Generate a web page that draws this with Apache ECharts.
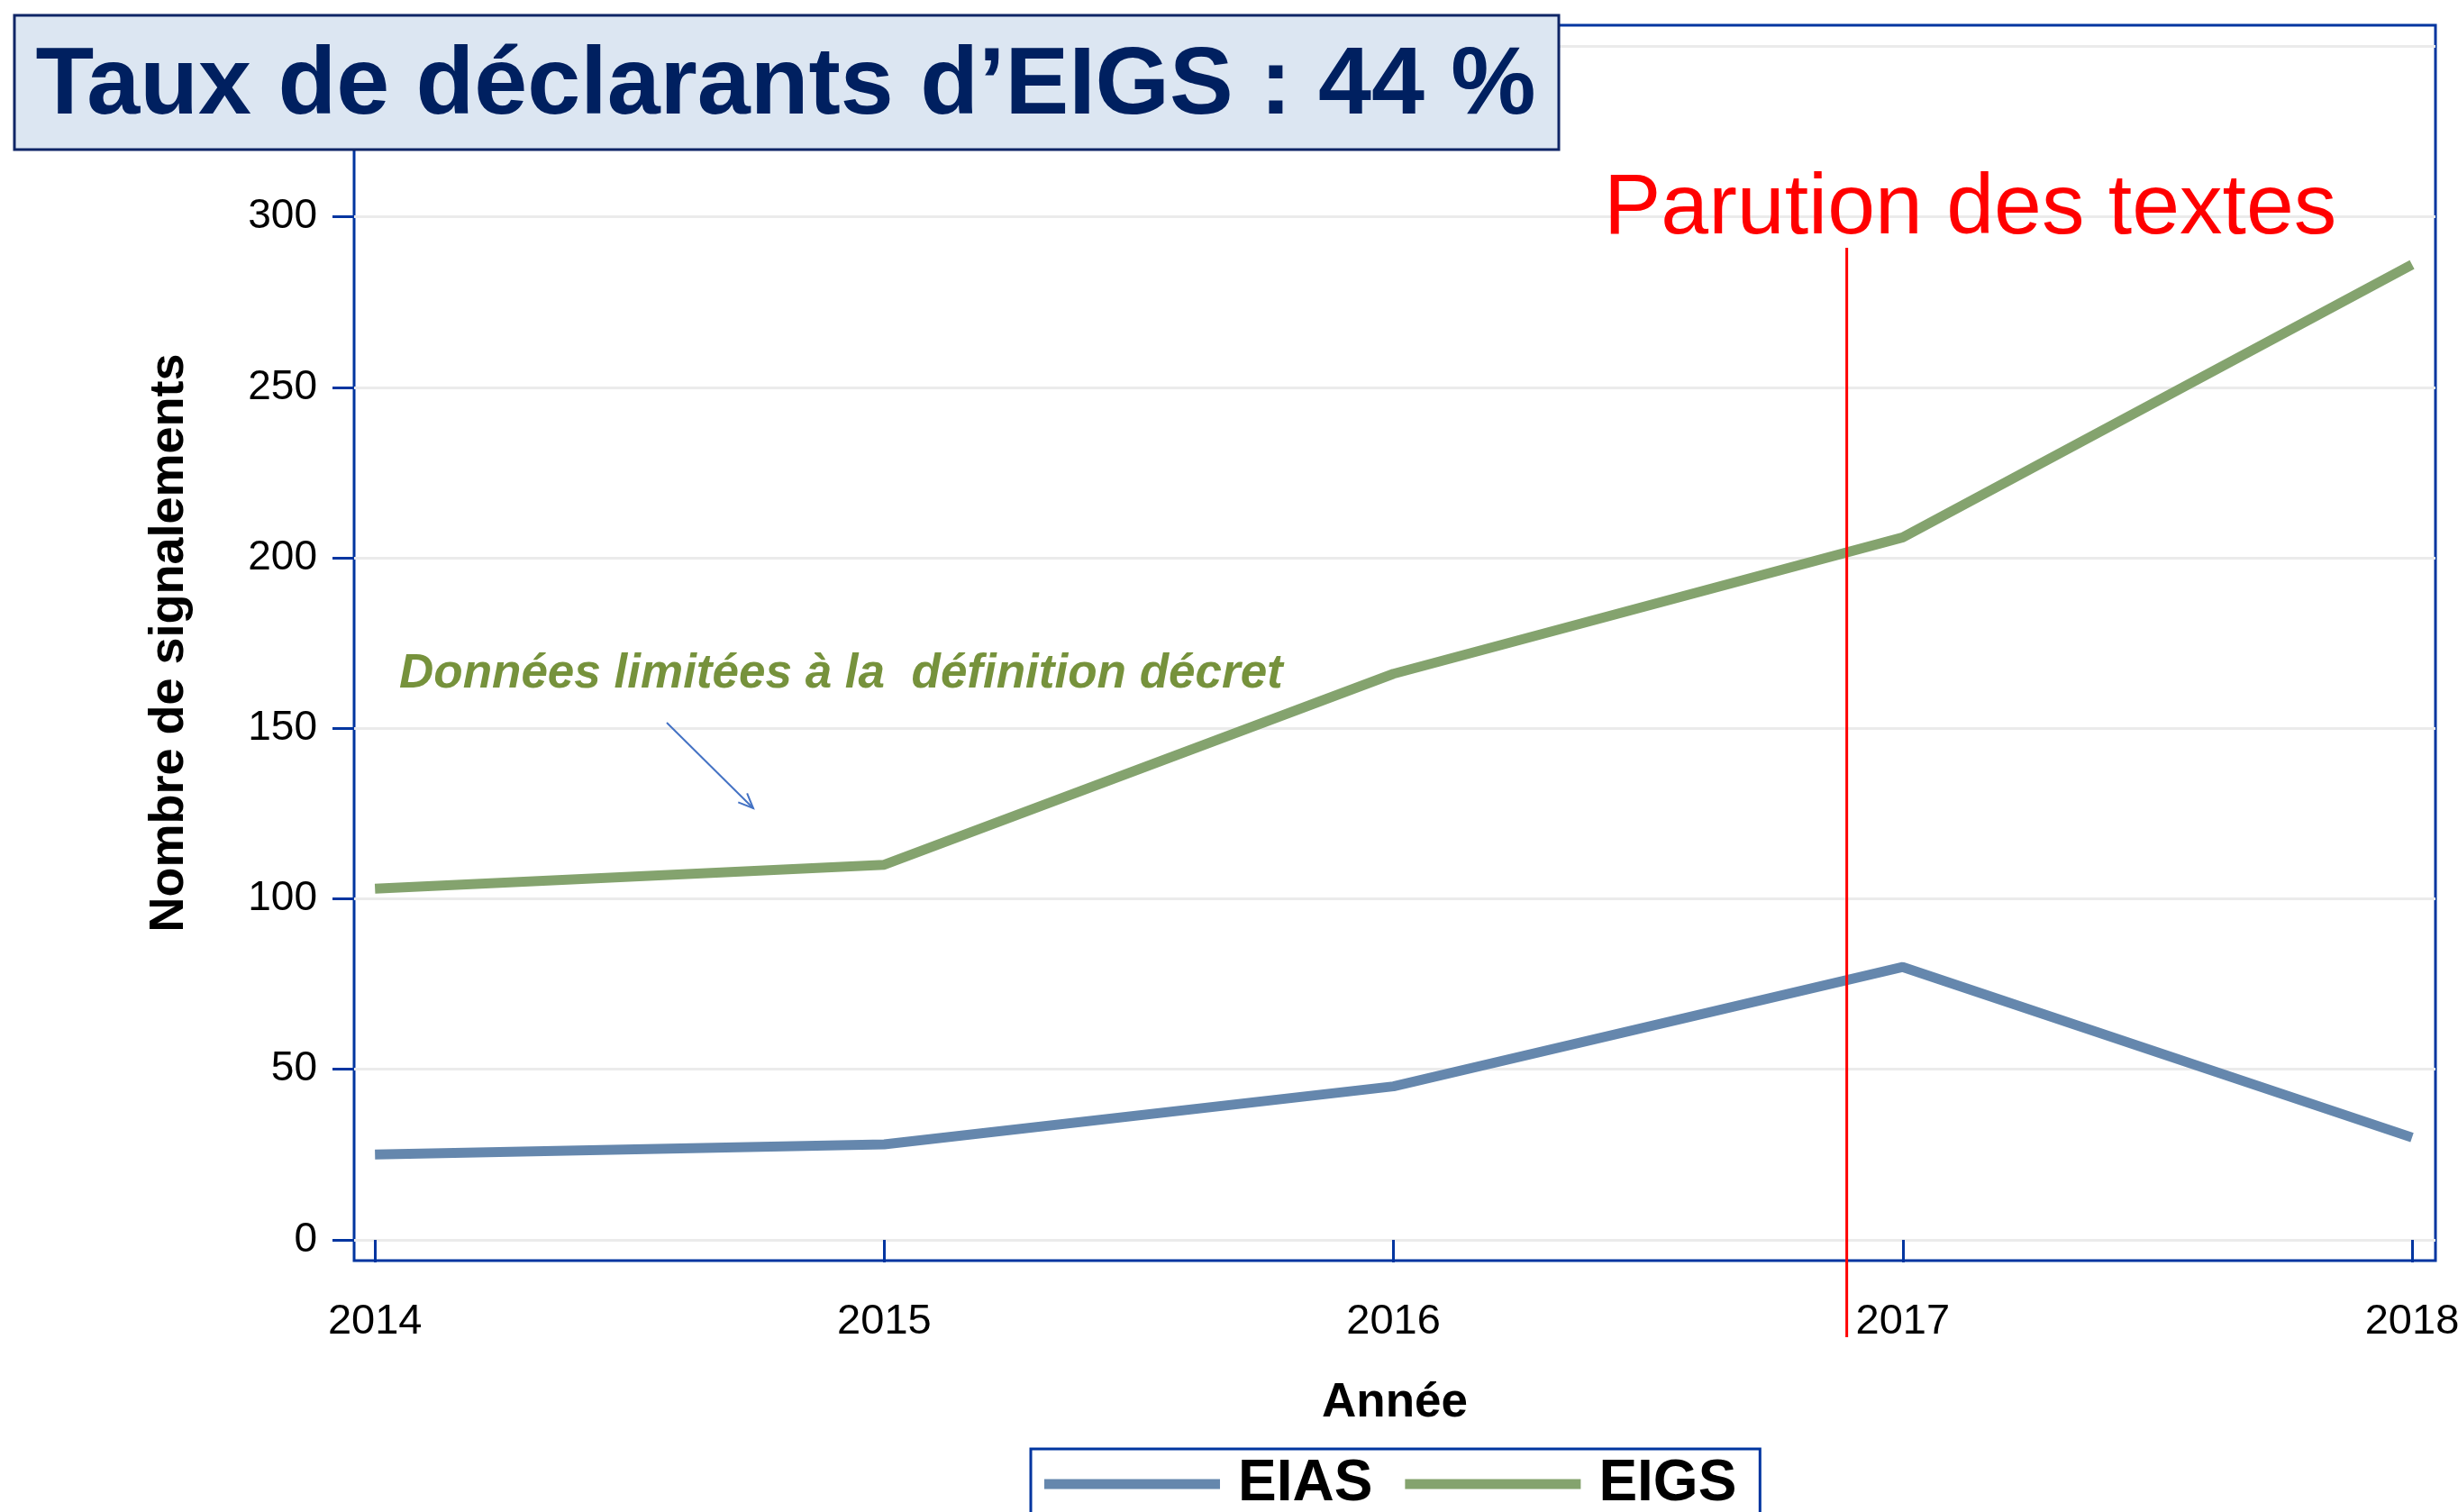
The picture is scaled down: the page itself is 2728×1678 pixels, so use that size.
<!DOCTYPE html>
<html lang="fr">
<head>
<meta charset="UTF-8">
<title>EIAS / EIGS</title>
<style>
  html, body { margin: 0; padding: 0; background: #fff; }
  #chart { width: 2728px; height: 1678px; }
</style>
</head>
<body>
<div id="chart"></div>
<script src="https://cdn.jsdelivr.net/npm/echarts@6/dist/echarts.min.js"></script>
<script>
// donnees
var annees = [2014, 2015, 2016, 2017, 2018];
var eias = [25, 28, 45, 80, 30];
var eigs = [103, 110, 166, 206, 286];
var yTicks = [0, 50, 100, 150, 200, 250, 300, 350];
var parution = 2016.89; // ligne rouge "Parution des textes"

var bleu = '#0035a0';
var font = '"Liberation Sans", Arial, sans-serif';

var chart = echarts.init(document.getElementById('chart'));

function pairs(vals) {
    return annees.map(function (a, i) { return [a, vals[i]]; });
}

chart.setOption({
    animation: false,
    textStyle: { fontFamily: font },
    grid: {
        left: 393, right: 25, top: 28, bottom: 279,
        show: true, borderColor: bleu, borderWidth: 3,
        backgroundColor: 'transparent',
        outerBoundsMode: 'none'
    },
    xAxis: {
        type: 'value', min: 2013.959, max: 2018.046,
        name: 'Année', nameLocation: 'middle', nameGap: 132,
        nameTextStyle: { fontSize: 53, fontWeight: 'bold', color: '#000', fontFamily: font },
        axisLine: { show: false },
        axisTick: { show: true, customValues: annees, length: 25, lineStyle: { color: bleu, width: 3 } },
        axisLabel: {
            customValues: annees, margin: 45, fontSize: 47, color: '#000', fontFamily: font,
            formatter: function (v) { return String(Math.round(v)); }
        },
        splitLine: { show: false }
    },
    yAxis: {
        type: 'value', min: -6.1, max: 356.2,
        name: 'Nombre de signalements', nameLocation: 'middle', nameGap: 178,
        nameTextStyle: { fontSize: 54, fontWeight: 'bold', color: '#000', fontFamily: font },
        axisLine: { show: false },
        axisTick: { show: true, customValues: yTicks, length: 24, lineStyle: { color: bleu, width: 3 } },
        axisLabel: {
            customValues: yTicks, margin: 41, fontSize: 46, color: '#000', fontFamily: font,
            formatter: function (v) { return String(Math.round(v)); }
        },
        splitLine: { show: true, lineStyle: { color: '#ebebeb', width: 3 } }
    },
    legend: {
        data: ['EIAS', 'EIGS'],
        left: 1144, top: 1608,
        icon: 'rect', itemWidth: 195, itemHeight: 11, itemGap: 36,
        padding: [7, 26, 40, 15],
        borderColor: bleu, borderWidth: 3,
        textStyle: { fontSize: 64, fontWeight: 'bold', color: '#000', fontFamily: font, padding: [0, 0, 0, 15] }
    },
    series: [
        {
            name: 'EIAS', type: 'line', data: pairs(eias), symbol: 'none',
            lineStyle: { color: '#6587ad', width: 11 }, itemStyle: { color: '#6587ad' }
        },
        {
            name: 'EIGS', type: 'line', data: pairs(eigs), symbol: 'none',
            lineStyle: { color: '#84a36e', width: 11 }, itemStyle: { color: '#84a36e' }
        }
    ]
});

// annotations
var xParution = chart.convertToPixel({ gridIndex: 0 }, [parution, 0])[0];

// petite fleche
var a0 = [740, 802], a1 = [836, 897];
var ang = Math.atan2(a1[1] - a0[1], a1[0] - a0[0]);
function wing(d) {
    return [a1[0] - 18 * Math.cos(ang + d), a1[1] - 18 * Math.sin(ang + d)];
}

chart.setOption({
    graphic: [
        {
            type: 'line', z: 50,
            shape: { x1: xParution, y1: 275, x2: xParution, y2: 1484 },
            style: { stroke: '#ff0000', lineWidth: 3 }
        },
        {
            type: 'text', z: 50, x: 1780, y: 233,
            style: { text: 'Parution des textes', fill: '#ff0000', font: '95px ' + font, verticalAlign: 'middle' }
        },
        {
            type: 'text', z: 50, x: 443, y: 748,
            style: { text: 'Données limitées à la  définition décret', fill: '#76923c', font: 'italic bold 53px ' + font, verticalAlign: 'middle' }
        },
        {
            type: 'line', z: 50,
            shape: { x1: a0[0], y1: a0[1], x2: a1[0], y2: a1[1] },
            style: { stroke: '#4472c4', lineWidth: 2 }
        },
        {
            type: 'polyline', z: 50,
            shape: { points: [wing(0.4), a1, wing(-0.4)] },
            style: { stroke: '#4472c4', lineWidth: 2, fill: null }
        },
        {
            type: 'rect', z: 100,
            shape: { x: 16, y: 17, width: 1714, height: 149 },
            style: { fill: '#dce6f2', stroke: '#0f2566', lineWidth: 3 }
        },
        {
            type: 'text', z: 101, x: 872, y: 97,
            style: { text: 'Taux de déclarants d’EIGS : 44 %', fill: '#002060', font: 'bold 106px ' + font, align: 'center', verticalAlign: 'middle' }
        }
    ]
});
</script>
</body>
</html>
